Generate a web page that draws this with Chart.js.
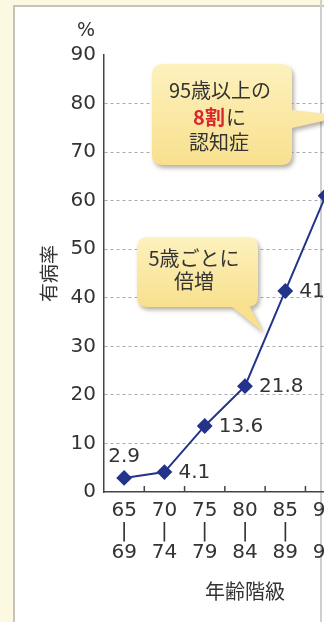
<!DOCTYPE html>
<html>
<head>
<meta charset="utf-8">
<script src="https://cdn.jsdelivr.net/npm/chart.js@4.4.1/dist/chart.umd.min.js"></script>
<style>
  html, body { margin: 0; padding: 0; }
  body { width: 324px; height: 622px; overflow: hidden; background: #fcf8e2; position: relative; }
  #panel { position: absolute; left: 13px; top: 5px; width: 420px; height: 640px; background: #fff; border: 2px solid #c6c4ba; }
  #edge { position: absolute; left: 320px; top: 0; width: 2px; height: 622px; background: #cfcfcf; }
  #wrap { position: absolute; left: 0; top: 0; width: 440px; height: 622px; }
</style>
</head>
<body>
<div id="panel"></div>
<div id="edge"></div>
<div id="wrap"><canvas id="chart" width="440" height="622"></canvas></div>
<script>
// age groups (from / to) and prevalence (%)
const ageFrom = ['65', '70', '75', '80', '85', '90', '95'];
const ageTo = ['69', '74', '79', '84', '89', '94', '以上'];
const prevalence = [2.9, 4.1, 13.6, 21.8, 41.4, 61.0, 79.5];
const yTickValues = [0, 10, 20, 30, 40, 50, 60, 70, 80, 90];

const navy = '#23348a';
const numFont = '"DejaVu Sans", sans-serif';
const jpFont = '"Noto Sans CJK JP", sans-serif';

// labels drawn next to each point
const pointLabels = {
  id: 'pointLabels',
  afterDatasetsDraw(chart) {
    const ctx = chart.ctx;
    const pts = chart.getDatasetMeta(0).data;
    ctx.save();
    ctx.font = '20px ' + numFont;
    ctx.fillStyle = '#333';
    ctx.textBaseline = 'middle';
    pts.forEach((p, i) => {
      const txt = prevalence[i].toFixed(1);
      if (i === 0) {
        ctx.textAlign = 'center';
        ctx.fillText(txt, p.x, p.y - 21);
      } else {
        ctx.textAlign = 'left';
        ctx.fillText(txt, p.x + 14, p.y + 1);
      }
    });
    ctx.restore();
  }
};

// small tick marks between categories, pointing up from the x axis
const innerTicks = {
  id: 'innerTicks',
  afterDraw(chart) {
    const ctx = chart.ctx;
    const x = chart.scales.x;
    const bottom = chart.chartArea.bottom;
    ctx.save();
    ctx.strokeStyle = '#444';
    ctx.lineWidth = 1.5;
    for (let i = 0; i < ageFrom.length - 1; i++) {
      const px = (x.getPixelForValue(i) + x.getPixelForValue(i + 1)) / 2;
      ctx.beginPath();
      ctx.moveTo(px, bottom);
      ctx.lineTo(px, bottom - 6);
      ctx.stroke();
    }
    // % unit above the y axis
    ctx.font = '19px ' + numFont;
    ctx.fillStyle = '#333';
    ctx.textAlign = 'center';
    ctx.textBaseline = 'middle';
    ctx.fillText('%', 86, chart.scales.y.getPixelForValue(90) - 24);
    ctx.restore();
  }
};

function bubble(ctx, x, y, w, h, r, tail) {
  ctx.beginPath();
  ctx.moveTo(x + r, y);
  ctx.lineTo(x + w - r, y);
  ctx.quadraticCurveTo(x + w, y, x + w, y + r);
  if (tail.side === 'right') {
    ctx.lineTo(x + w, tail.a);
    ctx.lineTo(tail.tx, tail.ty);
    ctx.lineTo(x + w, tail.b);
  }
  ctx.lineTo(x + w, y + h - r);
  ctx.quadraticCurveTo(x + w, y + h, x + w - r, y + h);
  if (tail.side === 'bottom') {
    ctx.lineTo(tail.b, y + h);
    ctx.lineTo(tail.tx, tail.ty);
    ctx.lineTo(tail.a, y + h);
  }
  ctx.lineTo(x + r, y + h);
  ctx.quadraticCurveTo(x, y + h, x, y + h - r);
  ctx.lineTo(x, y + r);
  ctx.quadraticCurveTo(x, y, x + r, y);
  ctx.closePath();
}

const callouts = {
  id: 'callouts',
  afterDraw(chart) {
    const ctx = chart.ctx;
    const boxes = [
      { x: 152, y: 64, w: 140, h: 101, tail: { side: 'right', a: 110, b: 128, tx: 345, ty: 116 } },
      { x: 137, y: 237, w: 121, h: 70, tail: { side: 'bottom', a: 232, b: 250, tx: 263, ty: 332 } }
    ];
    boxes.forEach(b => {
      ctx.save();
      ctx.shadowColor = 'rgba(90,80,60,0.45)';
      ctx.shadowBlur = 4;
      ctx.shadowOffsetX = 2;
      ctx.shadowOffsetY = 3;
      const g = ctx.createLinearGradient(0, b.y, 0, b.y + b.h);
      g.addColorStop(0, '#fdf1bd');
      g.addColorStop(1, '#f8e08e');
      ctx.fillStyle = g;
      bubble(ctx, b.x, b.y, b.w, b.h, 11, b.tail);
      ctx.fill();
      ctx.restore();
    });

    ctx.save();
    ctx.textBaseline = 'middle';
    ctx.textAlign = 'center';
    ctx.fillStyle = '#333';
    ctx.font = '20px ' + jpFont;
    ctx.fillText('95歳以上の', 220, 90);
    // "8割" in red bold + "に"
    ctx.font = 'bold 20px ' + jpFont;
    const w1 = ctx.measureText('8割').width;
    ctx.font = '20px ' + jpFont;
    const w2 = ctx.measureText('に').width;
    const sx = 219 - (w1 + w2) / 2;
    ctx.textAlign = 'left';
    ctx.font = 'bold 20px ' + jpFont;
    ctx.fillStyle = '#d9252b';
    ctx.fillText('8割', sx, 117);
    ctx.font = '20px ' + jpFont;
    ctx.fillStyle = '#333';
    ctx.fillText('に', sx + w1 + 1, 117);
    ctx.textAlign = 'center';
    ctx.fillText('認知症', 219, 142);
    ctx.fillText('5歳ごとに', 194, 258);
    ctx.fillText('倍増', 194, 281);
    ctx.restore();
  }
};

new Chart(document.getElementById('chart'), {
  type: 'line',
  data: {
    labels: ageFrom.map((a, i) => [a, '|', ageTo[i]]),
    datasets: [{
      data: prevalence,
      borderColor: navy,
      backgroundColor: navy,
      borderWidth: 2,
      pointStyle: 'rectRot',
      pointRadius: 6.5,
      pointBackgroundColor: navy,
      pointBorderColor: navy,
      tension: 0
    }]
  },
  options: {
    responsive: false,
    animation: false,
    devicePixelRatio: 1,
    layout: { padding: { left: 33, top: 55, right: 54, bottom: 16.5 } },
    scales: {
      x: {
        offset: true,
        afterFit(scale) { scale.height = 113.5; },
        grid: { display: false, drawTicks: false },
        border: { display: true, color: '#444', width: 1.5 },
        ticks: {
          color: '#333',
          padding: 8,
          maxRotation: 0,
          autoSkip: false,
          font: { family: numFont, size: 20, lineHeight: 1.05 }
        },
        title: {
          display: true,
          text: '年齢階級',
          color: '#333',
          padding: { top: 4, bottom: 2 },
          font: { family: jpFont, size: 20 }
        }
      },
      y: {
        min: 0,
        max: 90,
        afterFit(scale) { scale.width = 71; },
        afterBuildTicks(scale) { scale.ticks = yTickValues.map(v => ({ value: v })); },
        grid: {
          drawTicks: false,
          color: ctx => (ctx.tick && (ctx.tick.value === 0 || ctx.tick.value === 90)) ? 'rgba(0,0,0,0)' : '#a9a9a9',
          lineWidth: 1
        },
        border: { display: true, color: '#444', width: 1.5, dash: [3, 3] },
        ticks: {
          color: '#333',
          padding: 8,
          font: { family: numFont, size: 20 }
        },
        title: {
          display: true,
          text: '有病率',
          color: '#333',
          padding: { top: 4, bottom: 4 },
          font: { family: jpFont, size: 19 }
        }
      }
    },
    plugins: {
      legend: { display: false },
      tooltip: { enabled: false }
    }
  },
  plugins: [pointLabels, innerTicks, callouts]
});
</script>
</body>
</html>
